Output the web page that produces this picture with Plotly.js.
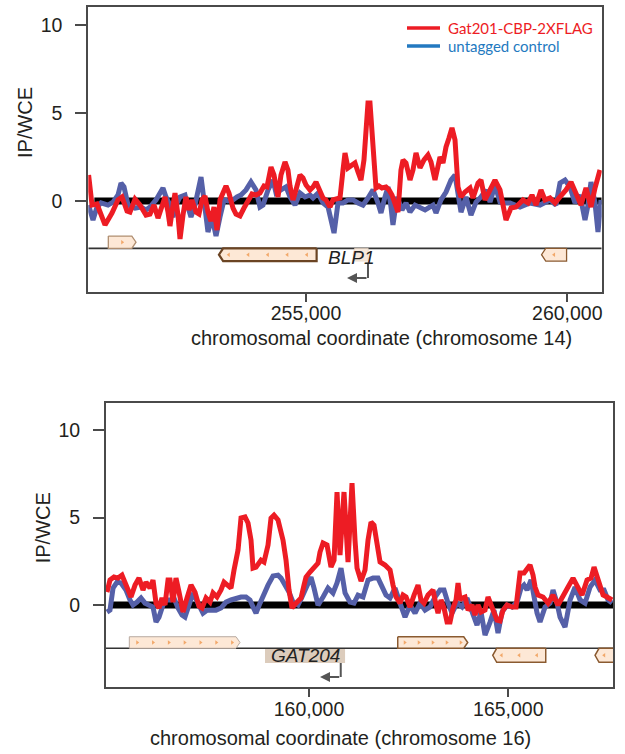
<!DOCTYPE html>
<html>
<head>
<meta charset="utf-8">
<script src="https://cdn.plot.ly/plotly-3.0.1.min.js"></script>
<style>html,body{margin:0;padding:0;background:#fff;}#chart{width:625px;height:754px;}</style>
</head>
<body>
<div id="chart"></div>
<script>
// ---------------- DATA ----------------
// Panel A: chromosome 14 around BLP1
const topRedX = [250840,250905,251000,251058,251154,251287,251402,251479,251575,251632,251728,251823,251938,252015,252091,252168,252225,252302,252359,252397,252455,252493,252550,252589,252646,252703,252761,252818,252895,252952,253010,253067,253124,253182,253239,253297,253354,253411,253469,253526,253603,253660,253737,253813,253890,253966,254043,254119,254196,254253,254330,254387,254464,254521,254598,254655,254694,254751,254808,254885,254942,255000,255076,255134,255191,255248,255325,255382,255459,255516,255574,255650,255708,255746,255803,255861,255937,255995,256052,256109,256148,256186,256224,256263,256282,256339,256397,256454,256531,256588,256645,256703,256760,256817,256856,256913,256990,257047,257105,257181,257258,257334,257392,257468,257564,257621,257679,257736,257793,257851,257908,257966,258042,258138,258195,258291,258348,258425,258501,258616,258712,258827,258922,259018,259152,259248,259324,259401,259496,259573,259669,259765,259860,259975,260071,260166,260262,260358,260453,260530,260625];
const topRedY = [1.48,-0.23,-0.17,-0.63,-1.36,-0.68,0.06,0.23,-0.57,-0.63,0.11,-0.23,-0.80,-0.74,-0.23,-0.97,-0.40,0.23,-0.63,-1.42,-0.23,0.45,-0.80,-2.16,-0.80,0.23,-0.51,0.06,-0.63,-0.74,0.06,0.28,-0.63,-1.14,-0.34,-1.65,0.06,0.45,0.85,0.45,-0.40,-0.74,-0.85,-0.40,0.06,0.40,0.34,0.45,0.85,0.80,1.93,1.48,0.23,1.48,2.22,1.76,0.85,0.06,0.63,1.48,1.31,0.91,0.63,0.80,1.08,0.63,0.17,0.06,-0.34,0.06,0.11,0.17,1.76,2.73,1.88,1.99,2.16,1.65,1.19,2.33,4.60,5.57,5.57,4.03,2.50,0.74,0.85,0.74,0.80,0.63,0.34,-0.23,-0.63,1.76,2.33,2.16,1.19,1.76,2.73,1.88,2.33,2.61,2.22,1.19,2.50,2.16,3.07,3.58,4.15,3.47,0.80,0.23,0.51,0.74,0.17,1.02,1.19,0.06,0.51,1.19,0.63,-1.08,-0.40,-0.34,0.06,-0.11,0.34,-0.23,0.63,0.06,0.17,-0.11,0.23,0.63,1.08,0.45,-0.23,0.74,-0.34,0.74,1.76];
const topBlueX = [250838,250886,250924,251000,251077,251211,251307,251402,251460,251517,251594,251728,251842,251938,252015,252129,252206,252263,252321,252397,252455,252512,252589,252684,252742,252799,252876,252952,252991,253048,253124,253201,253278,253354,253431,253507,253603,253679,253756,253852,253947,254043,254119,254177,254273,254368,254426,254521,254617,254694,254789,254885,254981,255076,255134,255229,255325,255421,255478,255536,255612,255708,255803,255899,255995,256090,256186,256282,256377,256435,256511,256569,256626,256664,256741,256837,256913,256990,257086,257181,257277,257334,257430,257487,257583,257679,257774,257851,257908,257966,258061,258157,258253,258348,258444,258521,258616,258712,258808,258903,259095,259286,259477,259669,259783,259860,259956,260051,260147,260243,260338,260396,260453,260530,260587,260645];
const topBlueY = [-0.23,-0.80,-1.08,-0.34,-0.11,-0.23,-0.06,0.34,1.02,0.80,-0.23,-0.40,-0.34,-0.51,-0.34,0.06,0.45,0.74,0.23,-0.23,-0.91,-0.23,0.23,0.34,-0.34,-0.91,-0.23,0.91,1.36,0.06,-1.76,-0.91,-1.99,-0.91,0.06,0.00,0.06,0.23,0.34,0.63,1.08,0.63,-0.34,-0.23,0.63,1.19,0.45,0.63,0.80,0.23,-0.23,0.45,0.23,0.34,0.17,0.45,-0.11,-0.34,-1.08,-1.82,-0.11,-0.11,0.06,0.06,-0.11,-0.23,0.17,0.63,-0.11,-0.68,0.23,0.80,-0.34,-1.36,0.23,-0.51,-0.11,-0.63,-0.23,-0.40,-0.51,-0.40,-0.23,-0.68,0.06,0.51,1.19,1.48,0.45,-0.63,0.23,-0.80,-0.06,0.23,0.63,-0.06,0.91,-0.06,-0.11,-0.11,-0.34,-0.11,-0.23,0.06,-0.23,1.02,1.19,0.80,-0.11,0.34,-1.08,-0.23,1.08,-0.11,-1.76,0.06];
const topBaseX = [250950, 260658];
const topBaseY = [0, 0];

// Panel B: chromosome 16 around GAT204
const botRedX = [154932,155007,155108,155208,155308,155409,155534,155635,155735,155835,155911,156011,156086,156162,156237,156312,156387,156463,156513,156588,156663,156739,156839,156939,157040,157140,157240,157316,157416,157516,157592,157692,157792,157868,157968,158043,158119,158219,158294,158395,158470,158545,158595,158671,158796,158871,158972,159047,159122,159222,159348,159423,159498,159574,159674,159800,159875,159925,160025,160126,160226,160276,160352,160452,160552,160628,160703,160778,160878,160979,161079,161154,161205,161305,161405,161481,161556,161631,161706,161782,161907,162033,162108,162183,162283,162359,162434,162534,162635,162735,162810,162886,162986,163111,163187,163237,163312,163387,163463,163538,163613,163689,163739,163789,163839,163914,163990,164090,164165,164240,164316,164416,164491,164567,164642,164717,164792,164868,164968,165094,165194,165294,165395,165545,165620,165671,165746,165871,165997,166122,166248,166373,166499,166624,166749,166850,166975,167076,167151,167251,167377,167477,167603];
const botRedY = [0.74,1.43,1.60,1.54,1.71,1.14,0.46,1.14,1.54,0.86,1.31,0.97,1.43,0.11,-0.17,0.40,0.00,1.43,1.43,0.17,1.54,0.74,-0.40,0.40,1.14,0.74,-0.06,-0.17,0.40,0.17,0.69,0.46,0.86,1.31,1.09,0.97,2.00,3.14,4.97,5.03,4.69,3.71,2.11,2.17,2.57,2.46,3.43,4.97,5.14,4.86,3.71,2.57,0.86,-0.17,0.11,0.40,1.14,1.60,1.89,2.17,2.40,3.03,3.54,3.43,2.17,2.57,6.46,2.86,6.46,2.46,6.97,3.71,2.11,1.37,2.00,3.71,4.74,4.57,3.43,2.46,2.29,2.00,1.14,0.46,0.11,0.57,0.46,-0.11,0.57,1.14,0.29,0.11,0.57,0.86,0.00,-0.46,0.29,-0.17,-0.97,-0.97,-0.17,0.29,1.26,0.29,0.40,0.46,-0.29,0.00,-0.57,0.00,-0.40,-0.29,0.46,0.00,-0.40,-0.86,-0.91,-0.29,0.00,-0.11,-0.11,1.83,1.83,2.29,1.71,1.03,0.57,0.46,0.11,0.57,0.00,0.46,1.03,1.54,0.97,0.57,1.43,1.54,2.17,1.54,0.57,0.46,0.29];
const botBlueX = [154932,155007,155083,155183,155283,155409,155509,155584,155685,155785,155886,155986,156086,156162,156237,156337,156412,156513,156613,156713,156814,156889,156989,157090,157215,157341,157441,157567,157667,157792,157918,158043,158169,158294,158420,158520,158595,158671,158771,158871,158972,159097,159222,159298,159398,159498,159599,159724,159825,159925,160050,160126,160226,160352,160477,160602,160703,160803,160904,161029,161129,161230,161355,161481,161606,161731,161832,161932,162033,162158,162283,162409,162534,162660,162785,162911,163036,163162,163287,163387,163488,163588,163714,163839,163964,164090,164215,164316,164416,164542,164642,164742,164843,164968,165094,165219,165319,165395,165470,165570,165646,165721,165796,165922,166047,166122,166223,166298,166423,166549,166674,166800,166925,167051,167176,167301,167402,167502,167603];
const botBlueY = [-0.40,-0.29,0.97,1.31,1.26,0.86,0.29,0.00,0.17,0.40,0.11,0.00,-0.11,-0.97,-0.69,0.00,0.29,0.29,0.40,-0.17,-0.57,-0.69,0.11,0.69,0.11,-0.46,-0.29,-0.29,-0.29,-0.17,0.17,0.29,0.40,0.46,0.46,0.29,-0.11,-0.46,0.11,0.69,1.14,1.66,1.71,1.54,1.14,0.74,0.17,0.00,0.46,1.03,1.60,0.97,0.00,0.46,0.97,0.69,1.26,2.11,0.69,0.17,0.11,0.57,0.46,1.43,1.54,1.54,0.97,0.57,0.40,0.97,0.11,-0.69,0.00,-0.46,0.11,-0.29,-0.11,0.46,0.86,0.86,0.11,-0.46,0.11,-0.11,0.40,-0.29,-1.14,-0.40,-1.71,-0.97,-0.29,-1.60,-0.40,0.00,-0.11,0.17,0.97,1.14,0.86,1.43,0.29,-0.46,-0.97,-0.11,0.11,0.86,0.11,-0.69,-1.26,0.29,1.03,0.29,0.11,1.03,1.43,0.86,0.86,0.29,0.11];
const botBaseX = [155000, 167634];
const botBaseY = [0, 0];

// Gene annotation tracks
const topGeneStart  = [251217, 253334, 259507];
const topGeneEnd    = [251747, 255203, 259986];
const topGeneStrand = ['+', '-', '-'];
const topGeneName   = 'BLP1';
const topNamedGene  = [255900, 256190];   // BLP1 extent (minus strand)
const topTss        = [256186, 255784];   // TSS, arrow tip

const botGeneStart  = [155492, 162226, 164609, 167176];
const botGeneEnd    = [158269, 163982, 165939, 168100];
const botGeneStrand = ['+', '+', '-', '-'];
const botGeneName   = 'GAT204';
const botNamedGene  = [158896, 160904];   // GAT204 label box extent
const botTss        = [160796, 160276];

const seriesNames = ['Gat201-CBP-2XFLAG', 'untagged control'];
const topTickVals = [255000, 260000];
const topTickText = ['255,000', '260,000'];
const botTickVals = [160000, 165000];
const botTickText = ['160,000', '165,000'];
const yTickVals = [0, 5, 10];
const yTickText = ['0', '5', '10'];
const xTitles = ['chromosomal coordinate (chromosome 14)', 'chromosomal coordinate (chromosome 16)'];
const yTitle = 'IP/WCE';

// ---------------- STYLE ----------------
const FONT = 'Liberation Sans, Arial, sans-serif';
const RED = '#ed1c24', BLUE = '#5560a8', LEG_BLUE = '#2379c0';
const FRAME = '#4a4a4a';
const GENE_FILL = '#fde8d6';

function genePoly(s, e, strand, y0, y1, tip) {
  const m = (y0 + y1) / 2;
  if (strand === '+') return {x: [s, e - tip, e, e - tip, s, s], y: [y0, y0, m, y1, y1, y0]};
  return {x: [e, s + tip, s, s + tip, e, e], y: [y0, y0, m, y1, y1, y0]};
}
function chevrons(s, e, strand, y, spacing) {
  const n = Math.max(1, Math.round((e - s) / spacing));
  const xs = [], ys = [];
  for (let i = 0; i < n; i++) { xs.push(s + (e - s) * (i + 0.5) / n); ys.push(y); }
  return {xs, ys, sym: strand === '+' ? 'triangle-right' : 'triangle-left'};
}

const traces = [];
function addPanel(xa, ya, base, blue, red, starts, ends, strands, rowAbove, trackY, hAbove, hBelow, tip, xmin, xmax, borders) {
  traces.push({x: [xmin, xmax], y: [trackY, trackY], xaxis: xa, yaxis: ya, mode: 'lines',
    line: {color: '#333', width: 1.6}, hoverinfo: 'skip'});
  for (let i = 0; i < starts.length; i++) {
    const above = rowAbove[i];
    const y0 = above ? trackY + hAbove : trackY;
    const y1 = above ? trackY : trackY - hBelow;
    const p = genePoly(starts[i], ends[i], strands[i], y0, y1, tip);
    traces.push({x: p.x, y: p.y, xaxis: xa, yaxis: ya, mode: 'lines', fill: 'toself',
      fillcolor: GENE_FILL, line: {color: borders[i][0], width: borders[i][1]}, hoverinfo: 'skip'});
    const c = chevrons(starts[i], Math.min(ends[i], xmax), strands[i], (y0 + y1) / 2, (ends[i]-starts[i]) > 1000 ? 390 : 600);
    traces.push({x: c.xs, y: c.ys, xaxis: xa, yaxis: ya, mode: 'markers',
      marker: {symbol: c.sym, size: 4, color: '#f2a86a'}, hoverinfo: 'skip'});
  }
  traces.push({x: base[0], y: base[1], xaxis: xa, yaxis: ya, mode: 'lines', line: {color: '#000', width: 7}, hoverinfo: 'skip'});
  traces.push({x: blue[0], y: blue[1], xaxis: xa, yaxis: ya, mode: 'lines', name: seriesNames[1],
    line: {color: BLUE, width: 5, shape: 'linear'}});
  traces.push({x: red[0], y: red[1], xaxis: xa, yaxis: ya, mode: 'lines', name: seriesNames[0],
    line: {color: RED, width: 5, shape: 'linear'}});
}

// top panel
const topTrackY = -2.69;
addPanel('x', 'y', [topBaseX, topBaseY], [topBlueX, topBlueY], [topRedX, topRedY],
  topGeneStart, topGeneEnd, topGeneStrand, [true, false, false], topTrackY, 0.70, 0.72, 80,
  250834, 260658, [['#b08f72', 1.3], ['#6b4423', 2.2], ['#8a5a30', 1.3]]);
// BLP1 gene box
(function(){
  const p = genePoly(topNamedGene[0], topNamedGene[1], '-', topTrackY, topTrackY - 0.72, 30);
  traces.splice(1, 0, {x: p.x, y: p.y, xaxis: 'x', yaxis: 'y', mode: 'lines', fill: 'toself',
    fillcolor: '#f7e9dc', line: {color: '#e8d6c4', width: 0.8}, hoverinfo: 'skip'});
})();
traces.push({x: [topTss[0], topTss[0]], y: [-3.52, -4.375], xaxis: 'x', yaxis: 'y', mode: 'lines',
  line: {color: '#555', width: 2}, hoverinfo: 'skip'});

// bottom panel
const botTrackY = -2.47;
(function(){
  const p = genePoly(botNamedGene[0], botNamedGene[1], '-', botTrackY, botTrackY - 0.84, 1);
  traces.push({x: p.x, y: p.y, xaxis: 'x2', yaxis: 'y2', mode: 'lines', fill: 'toself',
    fillcolor: 'rgba(205,183,160,0.7)', line: {color: 'rgba(0,0,0,0)', width: 0}, hoverinfo: 'skip'});
})();
addPanel('x2', 'y2', [botBaseX, botBaseY], [botBlueX, botBlueY], [botRedX, botRedY],
  botGeneStart, botGeneEnd, botGeneStrand, [true, true, false, false], botTrackY, 0.66, 0.80, 100,
  154907, 167634, [['#b8aaa0', 1.0], ['#8a5a30', 1.5], ['#8a5a30', 1.5], ['#8a5a30', 1.5]]);
traces.push({x: [botTss[0], botTss[0]], y: [-3.31, -4.11], xaxis: 'x2', yaxis: 'y2', mode: 'lines',
  line: {color: '#555', width: 2}, hoverinfo: 'skip'});

function xAxis(domain, range, vals, text, anchor) {
  return {domain, range, anchor, tickvals: vals, ticktext: text, ticks: 'outside', ticklen: 8, tickwidth: 2,
    tickcolor: FRAME, showline: true, linecolor: FRAME, linewidth: 2, mirror: true, showgrid: false,
    ticklabelstandoff: -5,
    zeroline: false, tickfont: {family: FONT, size: 19.5, color: '#231f20'}, fixedrange: true};
}
function yAxis(domain, range, anchor) {
  return {domain, range, anchor, tickvals: yTickVals, ticktext: yTickText, ticks: 'outside', ticklen: 11, tickwidth: 2,
    tickcolor: FRAME, showline: true, linecolor: FRAME, linewidth: 2, mirror: true, showgrid: false,
    ticklabelstandoff: 9,
    zeroline: false, tickfont: {family: FONT, size: 19.5, color: '#231f20'}, fixedrange: true};
}

const W = 625, H = 754;
const px = v => v / W, py = v => 1 - v / H;

const layout = {
  width: W, height: H, margin: {l: 0, r: 0, t: 0, b: 0}, paper_bgcolor: '#fff', plot_bgcolor: '#fff',
  showlegend: false,
  xaxis: xAxis([px(88.3), px(601.7)], [250834, 260658], topTickVals, topTickText, 'y'),
  yaxis: yAxis([py(291.7), py(7.3)], [-5.15, 11.0], 'x'),
  xaxis2: xAxis([px(106), px(613.3)], [154907, 167634], botTickVals, botTickText, 'y2'),
  yaxis2: yAxis([py(687.3), py(403.3)], [-4.70, 11.53], 'x2'),
  shapes: [
    {type: 'line', xref: 'paper', yref: 'paper', x0: px(407), x1: px(440), y0: py(28), y1: py(28), line: {color: RED, width: 3.5}},
    {type: 'line', xref: 'paper', yref: 'paper', x0: px(407), x1: px(440), y0: py(46), y1: py(46), line: {color: LEG_BLUE, width: 3.5}}
  ],
  annotations: [
    {xref: 'paper', yref: 'paper', x: px(446), y: py(28), xanchor: 'left', yanchor: 'middle', showarrow: false,
      text: seriesNames[0], font: {family: 'Lato, Open Sans, sans-serif', size: 15, color: RED}},
    {xref: 'paper', yref: 'paper', x: px(446), y: py(46), xanchor: 'left', yanchor: 'middle', showarrow: false,
      text: seriesNames[1], font: {family: 'Lato, Open Sans, sans-serif', size: 15, color: LEG_BLUE}},
    {xref: 'paper', yref: 'paper', x: px(381.7), y: py(338), xanchor: 'center', yanchor: 'middle', showarrow: false,
      text: xTitles[0], font: {family: FONT, size: 20, color: '#231f20'}},
    {xref: 'paper', yref: 'paper', x: px(340.8), y: py(738), xanchor: 'center', yanchor: 'middle', showarrow: false,
      text: xTitles[1], font: {family: FONT, size: 20, color: '#231f20'}},
    {xref: 'paper', yref: 'paper', x: px(25), y: py(123), xanchor: 'center', yanchor: 'middle', showarrow: false,
      textangle: -90, text: yTitle, font: {family: FONT, size: 20, color: '#231f20'}},
    {xref: 'paper', yref: 'paper', x: px(43), y: py(528.3), xanchor: 'center', yanchor: 'middle', showarrow: false,
      textangle: -90, text: yTitle, font: {family: FONT, size: 20, color: '#231f20'}},
    {xref: 'x', yref: 'y', x: 255870, y: -3.18, showarrow: false, text: '<i>' + topGeneName + '</i>',
      font: {family: FONT, size: 19, color: '#222'}},
    {xref: 'x2', yref: 'y2', x: 159900, y: -2.91, showarrow: false, text: '<i>' + botGeneName + '</i>',
      font: {family: FONT, size: 19, color: '#222'}},
    {xref: 'x', yref: 'y', axref: 'x', ayref: 'y', x: topTss[1], y: -4.375, ax: topTss[0], ay: -4.375,
      showarrow: true, arrowhead: 2, arrowsize: 1, arrowwidth: 2, arrowcolor: '#555', text: ''},
    {xref: 'x2', yref: 'y2', axref: 'x2', ayref: 'y2', x: botTss[1], y: -4.11, ax: botTss[0], ay: -4.11,
      showarrow: true, arrowhead: 2, arrowsize: 1, arrowwidth: 2, arrowcolor: '#555', text: ''}
  ]
};

Plotly.newPlot('chart', traces, layout, {displayModeBar: false, staticPlot: true});
</script>
</body>
</html>
